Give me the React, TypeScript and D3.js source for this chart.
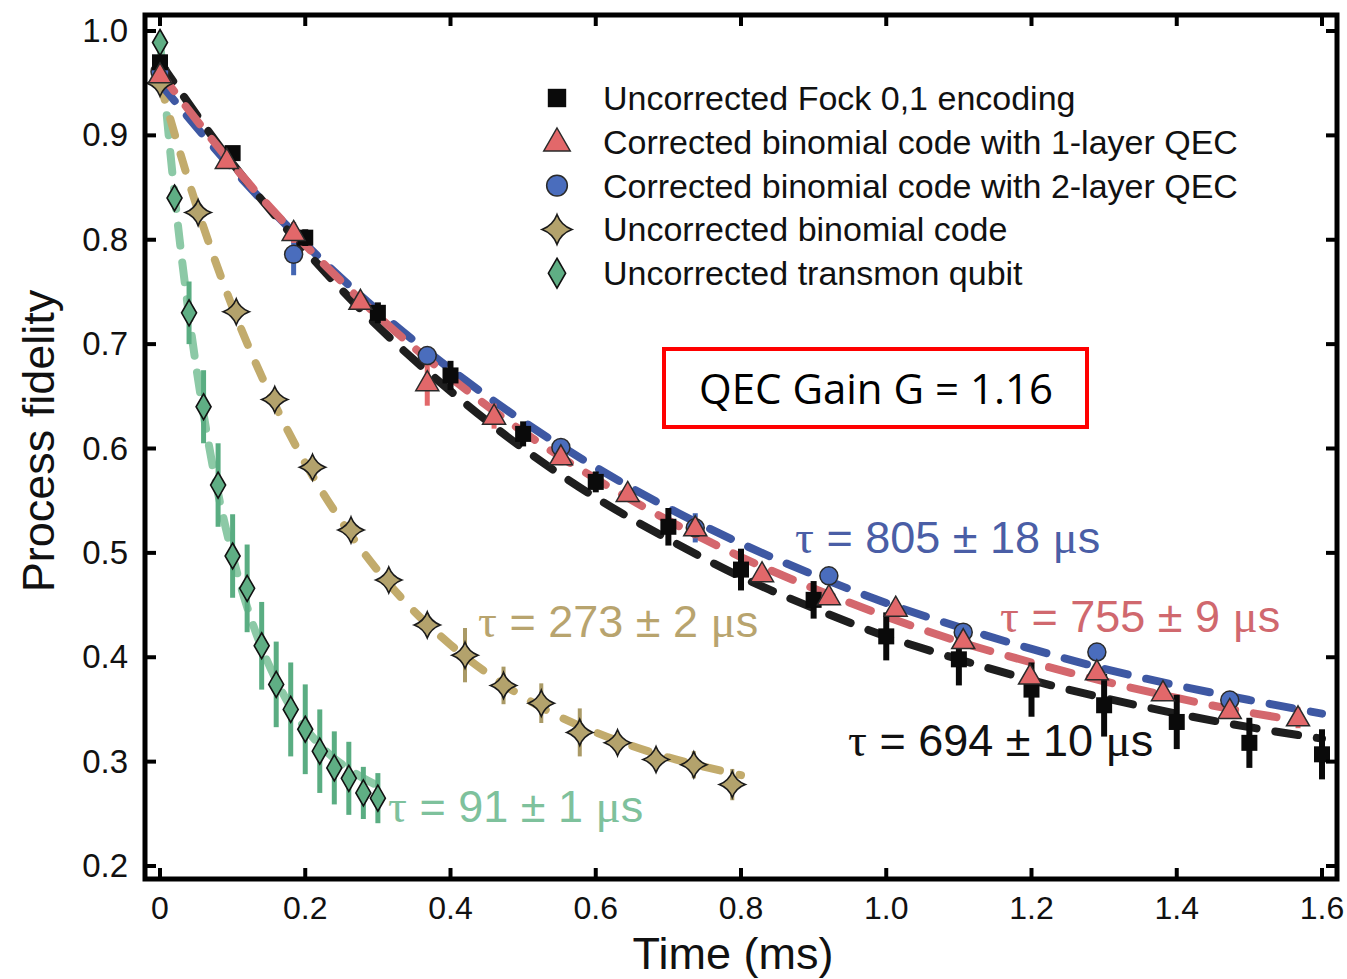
import React from "react";
import * as d3 from "d3";

// measured points (time in ms, process fidelity)
const fockT = [0, 0.1, 0.2, 0.3, 0.4, 0.5, 0.6, 0.7, 0.8, 0.9, 1.0, 1.1, 1.2, 1.3, 1.4, 1.5, 1.6];
const fockF = [0.970, 0.883, 0.802, 0.730, 0.670, 0.614, 0.568, 0.525, 0.484, 0.455, 0.420, 0.398, 0.369, 0.354, 0.338, 0.318, 0.307];
const fockErr = [0.004, 0.005, 0.008, 0.01, 0.014, 0.012, 0.01, 0.018, 0.02, 0.018, 0.023, 0.025, 0.026, 0.03, 0.026, 0.024, 0.024];

const qec1T = [0, 0.092, 0.184, 0.276, 0.368, 0.46, 0.552, 0.644, 0.737, 0.829, 0.921, 1.013, 1.106, 1.198, 1.29, 1.381, 1.473, 1.567];
const qec1F = [0.958, 0.876, 0.807, 0.741, 0.663, 0.631, 0.592, 0.557, 0.524, 0.480, 0.458, 0.447, 0.416, 0.382, 0.386, 0.366, 0.349, 0.342];
const qec1Err = [0.005, 0.005, 0.01, 0.005, 0.022, 0.012, 0.008, 0.008, 0.01, 0.008, 0.008, 0.008, 0.008, 0.008, 0.008, 0.008, 0.008, 0.01];

const qec2T = [0, 0.184, 0.368, 0.552, 0.737, 0.921, 1.106, 1.29, 1.473];
const qec2F = [0.961, 0.786, 0.689, 0.601, 0.524, 0.478, 0.424, 0.405, 0.359];
const qec2Err = [0.005, 0.02, 0.008, 0.006, 0.014, 0.006, 0.006, 0.006, 0.006];

const binT = [0, 0.0525, 0.105, 0.158, 0.21, 0.263, 0.315, 0.368, 0.42, 0.473, 0.525, 0.578, 0.63, 0.683, 0.735, 0.788];
const binF = [0.950, 0.826, 0.731, 0.647, 0.582, 0.522, 0.474, 0.431, 0.402, 0.373, 0.356, 0.328, 0.318, 0.302, 0.297, 0.278];
const binErr = [0.005, 0.006, 0.006, 0.006, 0.006, 0.006, 0.008, 0.01, 0.026, 0.018, 0.019, 0.023, 0.008, 0.01, 0.013, 0.015];

const tmonT = [0, 0.02, 0.04, 0.06, 0.08, 0.10, 0.12, 0.14, 0.16, 0.18, 0.20, 0.22, 0.24, 0.26, 0.28, 0.30];
const tmonF = [0.989, 0.840, 0.730, 0.640, 0.565, 0.497, 0.466, 0.411, 0.374, 0.350, 0.331, 0.310, 0.294, 0.284, 0.270, 0.265];
const tmonErr = [0.005, 0.01, 0.03, 0.035, 0.04, 0.04, 0.042, 0.042, 0.041, 0.045, 0.043, 0.04, 0.035, 0.035, 0.025, 0.024];

// fit curves
const fockFitT = [0, 0.1, 0.2, 0.3, 0.4, 0.5, 0.6, 0.7, 0.8, 0.9, 1.0, 1.1, 1.2, 1.3, 1.4, 1.5, 1.6];
const fockFitF = [0.970, 0.873, 0.790, 0.717, 0.655, 0.600, 0.553, 0.513, 0.477, 0.447, 0.420, 0.398, 0.378, 0.361, 0.346, 0.333, 0.322];
const qec1FitT = [0, 0.1, 0.2, 0.3, 0.4, 0.5, 0.6, 0.7, 0.8, 0.9, 1.0, 1.1, 1.2, 1.3, 1.4, 1.5, 1.57];
const qec1FitF = [0.960, 0.872, 0.795, 0.727, 0.668, 0.616, 0.571, 0.531, 0.496, 0.466, 0.439, 0.415, 0.395, 0.377, 0.361, 0.347, 0.339];
const qec2FitT = [0, 0.1, 0.2, 0.3, 0.4, 0.5, 0.6, 0.7, 0.8, 0.9, 1.0, 1.1, 1.2, 1.3, 1.4, 1.5, 1.6];
const qec2FitF = [0.950, 0.868, 0.796, 0.732, 0.676, 0.626, 0.582, 0.543, 0.509, 0.479, 0.452, 0.429, 0.408, 0.389, 0.373, 0.359, 0.346];
const binFitT = [0, 0.05, 0.1, 0.15, 0.2, 0.25, 0.3, 0.35, 0.4, 0.45, 0.5, 0.55, 0.6, 0.65, 0.7, 0.75, 0.8];
const binFitF = [0.950, 0.833, 0.735, 0.654, 0.586, 0.530, 0.483, 0.444, 0.412, 0.385, 0.362, 0.343, 0.328, 0.315, 0.304, 0.295, 0.287];
const tmonFitT = [0, 0.02, 0.04, 0.06, 0.08, 0.10, 0.12, 0.14, 0.16, 0.18, 0.20, 0.22, 0.24, 0.26, 0.28, 0.30];
const tmonFitF = [0.990, 0.844, 0.727, 0.633, 0.557, 0.497, 0.448, 0.409, 0.378, 0.352, 0.332, 0.316, 0.303, 0.293, 0.284, 0.277];

const xTicks = [0, 0.2, 0.4, 0.6, 0.8, 1.0, 1.2, 1.4, 1.6];
const xTickLabels = ["0", "0.2", "0.4", "0.6", "0.8", "1.0", "1.2", "1.4", "1.6"];
const yTicks = [0.2, 0.3, 0.4, 0.5, 0.6, 0.7, 0.8, 0.9, 1.0];

const legendLabels = [
  "Uncorrected Fock 0,1 encoding",
  "Corrected binomial code with 1-layer QEC",
  "Corrected binomial code with 2-layer QEC",
  "Uncorrected binomial code",
  "Uncorrected transmon qubit",
];

const SANS = "'Liberation Sans', Arial, sans-serif";
const SERIF = "'Liberation Serif', 'DejaVu Serif', serif";

const starPath = "M0,-13 Q3.5,-3.5 13,0 Q3.5,3.5 0,13 Q-3.5,3.5 -13,0 Q-3.5,-3.5 0,-13Z";
const diamondPath = "M0,-13 L7.5,0 L0,13 L-7.5,0Z";
const triPath = "M0,-12 L11.5,8 L-11.5,8Z";

function Marker({ kind, x, y, s = 1 }: { kind: string; x: number; y: number; s?: number }) {
  const t = `translate(${x},${y}) scale(${s})`;
  if (kind === "square") return <rect x={x - 8 * s} y={y - 8 * s} width={16 * s} height={16 * s} fill="#0a0a0a" />;
  if (kind === "tri") return <path d={triPath} transform={t} fill="#e2686a" stroke="#2a2a2a" strokeWidth={1.5 / s} />;
  if (kind === "circle") return <circle cx={x} cy={y} r={9 * s} fill="#4a6dbd" stroke="#2a2a2a" strokeWidth={1.5} />;
  if (kind === "star") return <path d={starPath} transform={t} fill="#b3a26c" stroke="#1a1a1a" strokeWidth={1.6 / s} />;
  return <path d={diamondPath} transform={t} fill="#5fae84" stroke="#111" strokeWidth={1.6 / s} />;
}

function Tau({ x, y, color, value }: { x: number; y: number; color: string; value: string }) {
  return (
    <text x={x} y={y} fill={color} fontFamily={SANS} fontSize={45}>
      <tspan fontFamily={SERIF} fontSize={47}>τ</tspan>
      <tspan>{" = " + value + " "}</tspan>
      <tspan fontFamily={SERIF} fontSize={47}>μ</tspan>
      <tspan>s</tspan>
    </text>
  );
}

export default function App() {
  const width = 1347;
  const height = 979;
  const x = d3.scaleLinear().domain([0, 1.6]).range([160, 1322]);
  const y = d3.scaleLinear().domain([0.2, 1.0]).range([866, 31]);

  const line = (ts: number[], fs: number[]) =>
    d3.line<number>().x((_, i) => x(ts[i])).y((f) => y(f)).curve(d3.curveMonotoneX)(fs) || "";

  const series = [
    { t: tmonT, f: tmonF, e: tmonErr, kind: "diamond", bar: "#5aad82", bw: 5 },
    { t: binT, f: binF, e: binErr, kind: "star", bar: "#aa9a66", bw: 4 },
    { t: qec2T, f: qec2F, e: qec2Err, kind: "circle", bar: "#4466b3", bw: 5 },
    { t: fockT, f: fockF, e: fockErr, kind: "square", bar: "#0a0a0a", bw: 6 },
    { t: qec1T, f: qec1F, e: qec1Err, kind: "tri", bar: "#e2686a", bw: 5 },
  ];

  const fits = [
    { t: tmonFitT, f: tmonFitF, c: "#8cc9a6", dash: "20 17", w: 8 },
    { t: binFitT, f: binFitF, c: "#c2ab6c", dash: "17 20", w: 8 },
    { t: qec2FitT, f: qec2FitF, c: "#3e58a3", dash: "23 19", w: 8 },
    { t: fockFitT, f: fockFitF, c: "#1e1e1e", dash: "23 19", w: 8 },
    { t: qec1FitT, f: qec1FitF, c: "#d4676d", dash: "23 19", w: 8 },
  ];

  const legendKinds = ["square", "tri", "circle", "star", "diamond"];

  return (
    <svg width={width} height={height} style={{ position: "absolute", left: 0, top: 0, background: "#fff" }}>
      {/* fit curves */}
      {fits.map((s, i) => (
        <path key={"fit" + i} d={line(s.t, s.f)} fill="none" stroke={s.c} strokeWidth={s.w}
          strokeDasharray={s.dash} strokeLinecap="round" />
      ))}

      {/* error bars */}
      {series.map((s, i) => (
        <g key={"err" + i}>
          {s.t.map((t, j) => (
            <line key={j} x1={x(t)} x2={x(t)} y1={y(s.f[j] - s.e[j])} y2={y(s.f[j] + s.e[j])}
              stroke={s.bar} strokeWidth={s.bw} />
          ))}
        </g>
      ))}

      {/* markers */}
      {series.map((s, i) => (
        <g key={"mk" + i}>
          {s.t.map((t, j) => (
            <Marker key={j} kind={s.kind} x={x(t)} y={y(s.f[j])} />
          ))}
        </g>
      ))}

      {/* frame */}
      <rect x={145} y={15} width={1192} height={864} fill="none" stroke="#000" strokeWidth={5} />
      {xTicks.map((t) => (
        <g key={"xt" + t}>
          <line x1={x(t)} x2={x(t)} y1={879} y2={868} stroke="#000" strokeWidth={4} />
          <line x1={x(t)} x2={x(t)} y1={15} y2={26} stroke="#000" strokeWidth={4} />
        </g>
      ))}
      {yTicks.map((v) => (
        <g key={"yt" + v}>
          <line x1={145} x2={156} y1={y(v)} y2={y(v)} stroke="#000" strokeWidth={4} />
          <line x1={1337} x2={1326} y1={y(v)} y2={y(v)} stroke="#000" strokeWidth={4} />
        </g>
      ))}

      {/* tick labels */}
      {xTicks.map((t, i) => (
        <text key={"xl" + t} x={x(t)} y={919} textAnchor="middle" fontFamily={SANS} fontSize={32} fill="#111">
          {xTickLabels[i]}
        </text>
      ))}
      {yTicks.map((v) => (
        <text key={"yl" + v} x={128} y={y(v) + 11} textAnchor="end" fontFamily={SANS} fontSize={33} fill="#111">
          {v.toFixed(1)}
        </text>
      ))}

      {/* axis titles */}
      <text x={733} y={969} textAnchor="middle" fontFamily={SANS} fontSize={45} fill="#111">Time (ms)</text>
      <text transform="translate(54,441) rotate(-90)" textAnchor="middle" fontFamily={SANS} fontSize={45} fill="#111">
        Process fidelity
      </text>

      {/* legend */}
      {legendLabels.map((lab, i) => (
        <g key={"lg" + i}>
          <Marker kind={legendKinds[i]} x={557} y={98 + i * 43.8} s={1.15} />
          <text x={603} y={98 + i * 43.8 + 12} fontFamily={SANS} fontSize={34} fill="#111">{lab}</text>
        </g>
      ))}

      {/* gain box */}
      <rect x={664} y={349} width={423} height={78} fill="#fff" stroke="#ff0000" strokeWidth={4} />
      <text x={876} y={404} textAnchor="middle" fontFamily="'Open Sans', Lato, sans-serif" fontSize={42} fill="#000">
        QEC Gain G = 1.16
      </text>

      {/* tau annotations */}
      <Tau x={795} y={553} color="#4a5ea6" value="805 ± 18" />
      <Tau x={1000} y={632} color="#d0686e" value="755 ± 9" />
      <Tau x={848} y={756} color="#111" value="694 ± 10" />
      <Tau x={478} y={637} color="#b8a46e" value="273 ± 2" />
      <Tau x={388} y={822} color="#7ec19c" value="91 ± 1" />
    </svg>
  );
}
